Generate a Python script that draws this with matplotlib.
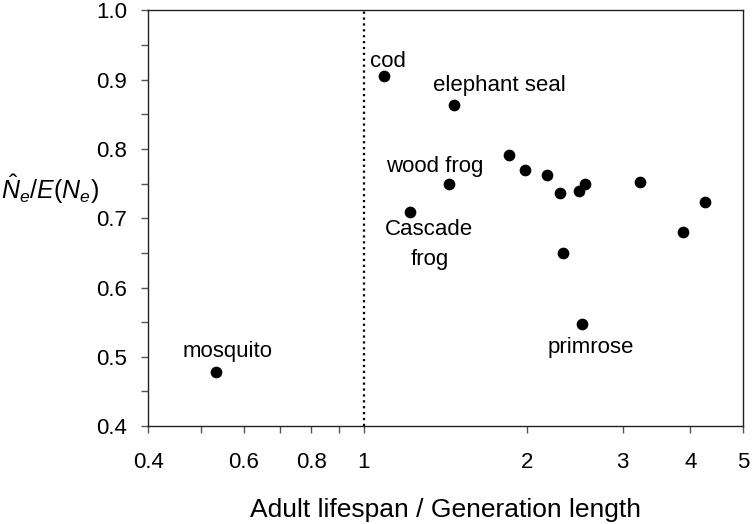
import matplotlib.pyplot as plt
from matplotlib.ticker import FixedLocator, NullFormatter, MultipleLocator

plt.rcParams['font.family'] = ['Liberation Sans', 'DejaVu Sans']
plt.rcParams['mathtext.fontset'] = 'custom'
plt.rcParams['mathtext.rm'] = 'Liberation Sans'
plt.rcParams['mathtext.it'] = 'Liberation Sans:italic'

# lifespan / generation length vs Ne ratio
lifespan_ratio = [0.534, 1.088, 1.464, 1.849, 1.979, 2.18, 2.30, 2.495,
                  2.556, 3.23, 4.26, 3.88, 1.436, 1.217, 2.325, 2.52]
ne_ratio = [0.478, 0.906, 0.864, 0.792, 0.769, 0.763, 0.737, 0.740,
            0.750, 0.753, 0.724, 0.680, 0.749, 0.709, 0.650, 0.548]

labels = ['mosquito', 'cod', 'elephant seal', 'wood frog', 'Cascade\nfrog', 'primrose']
label_x = [0.56, 1.108, 1.779, 1.349, 1.32, 2.62]
label_y = [0.507, 0.927, 0.891, 0.774, 0.662, 0.514]

xticks = [0.4, 0.5, 0.6, 0.7, 0.8, 0.9, 1, 2, 3, 4, 5]
xticklabels = ['0.4', '', '0.6', '', '0.8', '', '1', '2', '3', '4', '5']

fig = plt.figure(figsize=(7.52, 5.24), dpi=100)
ax = fig.add_axes([0.197, 0.187, 0.791, 0.793])

ax.axvline(1, color='black', linestyle=':', linewidth=1.6, zorder=1)
ax.scatter(lifespan_ratio, ne_ratio, s=55, color='black', zorder=3)

for txt, lx, ly in zip(labels, label_x, label_y):
    ax.text(lx, ly, txt, ha='center', va='center', fontsize=16, linespacing=1.55)

ax.set_xscale('log')
ax.set_xlim(0.4, 5)
ax.set_ylim(0.4, 1.0)
ax.xaxis.set_major_locator(FixedLocator(xticks))
ax.xaxis.set_minor_locator(FixedLocator([]))
ax.set_xticklabels(xticklabels)
ax.xaxis.set_minor_formatter(NullFormatter())
ax.yaxis.set_major_locator(MultipleLocator(0.1))
ax.yaxis.set_minor_locator(MultipleLocator(0.05))
ax.yaxis.set_major_formatter(plt.FormatStrFormatter('%.1f'))

ax.tick_params(axis='both', which='both', direction='out', length=5,
               width=1, color='#555555', labelsize=16)
ax.tick_params(axis='x', pad=14)
ax.tick_params(axis='y', pad=10)
for sp in ax.spines.values():
    sp.set_linewidth(1.0)
    sp.set_color('#222222')

ax.set_xlabel('Adult lifespan / Generation length', fontsize=19, labelpad=18)
ax.set_ylabel(r'$\hat{N}_e/E(N_e)$', fontsize=18, rotation=0, ha='center', va='center')
ax.yaxis.set_label_coords(-0.165, 0.57)

fig.savefig('out.png', dpi=100)
